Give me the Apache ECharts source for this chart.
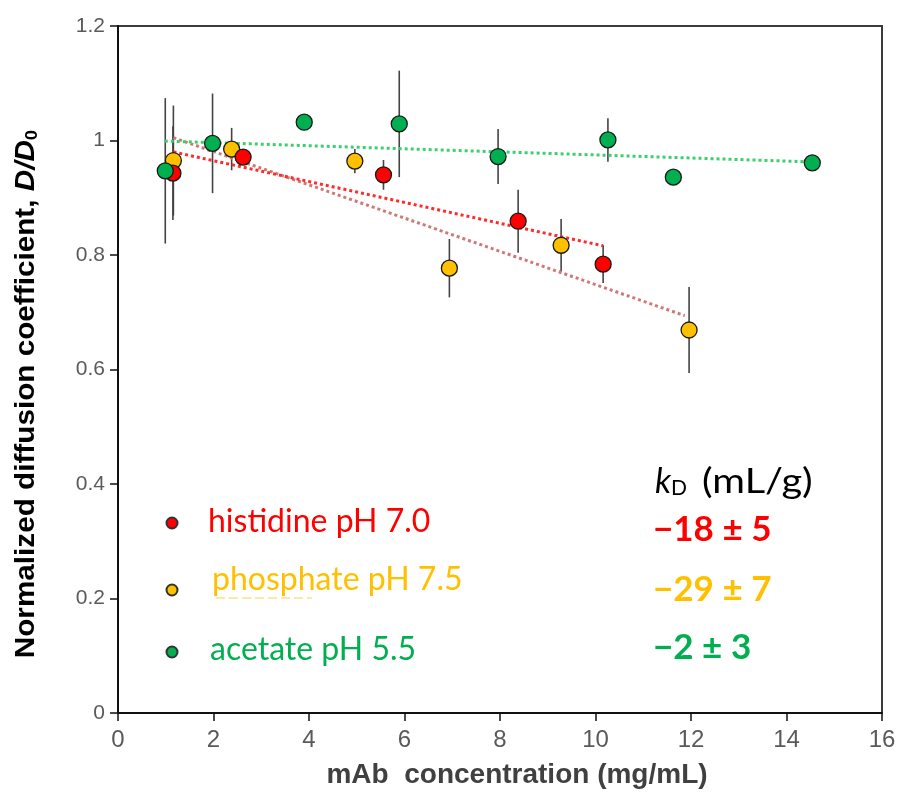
<!DOCTYPE html>
<html><head><meta charset="utf-8">
<script src="https://cdn.jsdelivr.net/npm/echarts@6/dist/echarts.min.js"></script>
<style>html,body{margin:0;padding:0;background:#fff}#c{width:899px;height:793px}</style>
</head><body><div id="c"></div>
<script>
// ---- data ----
const histX = [1.15, 2.62, 5.56, 8.38, 10.16];
const histY = [0.943, 0.971, 0.940, 0.859, 0.784];
const histErr = [0.082, 0, 0.026, 0.055, 0.033];
const phosX = [1.16, 2.38, 4.96, 6.94, 9.28, 11.96];
const phosY = [0.965, 0.985, 0.964, 0.777, 0.817, 0.669];
const phosErr = [0.096, 0.037, 0.021, 0.051, 0.046, 0.075];
const aceX = [0.99, 1.98, 3.90, 5.89, 7.96, 10.26, 11.63, 14.54];
const aceY = [0.947, 0.995, 1.032, 1.029, 0.972, 1.001, 0.936, 0.961];
const aceErr = [0.127, 0.087, 0, 0.093, 0.048, 0.038, 0, 0];
const histFitX = [1.16, 10.16], histFitY = [0.980, 0.816];
const phosFitX = [1.16, 11.87], phosFitY = [1.005, 0.694];
const aceFitX = [0.98, 14.39], aceFitY = [0.999, 0.963];
const seriesNames = ['histidine pH 7.0', 'phosphate pH 7.5', 'acetate pH 5.5'];
const kdValues = ['\u221218 \u00b1 5', '\u221229 \u00b1 7', '\u22122 \u00b1 3'];
const xTickLabels = ['0','2','4','6','8','10','12','14','16'];
const yTickLabels = ['0','0.2','0.4','0.6','0.8','1','1.2'];

const RED = '#ff0000', YEL = '#ffc000', GRN = '#00b050';
const zip = (a, b) => a.map((v, i) => [v, b[i]]);

function errSeries(xs, ys, es) {
  return {
    type: 'custom', z: 2, silent: true,
    data: xs.map((x, i) => [x, ys[i] - es[i], ys[i] + es[i]]).filter((d, i) => es[i] > 0),
    encode: { x: 0, y: [1, 2] },
    renderItem(params, api) {
      const lo = api.coord([api.value(0), api.value(1)]);
      const hi = api.coord([api.value(0), api.value(2)]);
      return { type: 'line', shape: { x1: lo[0], y1: lo[1], x2: hi[0], y2: hi[1] },
        style: { stroke: '#444', lineWidth: 1.6 } };
    }
  };
}
function fitSeries(xs, ys, color) {
  return { type: 'line', z: 3, silent: true, symbol: 'none', data: zip(xs, ys),
    lineStyle: { color: color, width: 3, type: [3, 3] } };
}
function ptSeries(name, xs, ys, color, z) {
  return { name: name, type: 'scatter', z: z, data: zip(xs, ys), symbolSize: 16,
    itemStyle: { color: color, borderColor: '#1a1a1a', borderWidth: 1.3, opacity: 1 } };
}

const chart = echarts.init(document.getElementById('c'), null, { renderer: 'canvas' });
const labelFont = 'Liberation Sans, Arial, sans-serif';
chart.setOption({
  animation: false,
  backgroundColor: '#fff',
  grid: { left: 118, right: 17, top: 26, bottom: 80, show: true, borderColor: '#3c3c3c', borderWidth: 2 },
  xAxis: {
    type: 'value', min: 0, max: 16, interval: 2,
    axisLine: { onZero: false, lineStyle: { color: '#111', width: 2 } },
    axisTick: { show: true, length: 8, lineStyle: { color: '#111', width: 1.5 } },
    splitLine: { show: false },
    axisLabel: { margin: 15, color: '#5a5a5a', fontSize: 24, fontFamily: labelFont,
      formatter: v => xTickLabels[Math.round(v / 2)] }
  },
  yAxis: {
    type: 'value', min: 0, max: 1.2, interval: 0.2,
    axisLine: { show: true, onZero: false, lineStyle: { color: '#111', width: 2 } },
    axisTick: { show: true, length: 8, lineStyle: { color: '#111', width: 1.5 } },
    splitLine: { show: false },
    axisLabel: { margin: 13, color: '#5a5a5a', fontSize: 21, fontFamily: labelFont,
      formatter: v => yTickLabels[Math.round(v / 0.2)] }
  },
  series: [
    errSeries(aceX, aceY, aceErr),
    errSeries(phosX, phosY, phosErr),
    errSeries(histX, histY, histErr),
    fitSeries(phosFitX, phosFitY, '#d07878'),
    fitSeries(histFitX, histFitY, '#ff2a2a'),
    fitSeries(aceFitX, aceFitY, '#3ccf6e'),
    ptSeries(seriesNames[1], phosX, phosY, YEL, 5),
    ptSeries(seriesNames[0], histX, histY, RED, 6),
    ptSeries(seriesNames[2], aceX, aceY, GRN, 7)
  ],
  graphic: [
    { type: 'text', x: 517, y: 775, style: { text: 'mAb  concentration (mg/mL)', fill: '#404040',
      font: 'bold 28px ' + labelFont, align: 'center', verticalAlign: 'middle' } },
    { type: 'text', x: 27, y: 394, rotation: Math.PI / 2, scaleX: 1.1,
      style: { text: '{b|Normalized diffusion coefficient, }{i|D/D}{s|0}',
        align: 'center', verticalAlign: 'middle',
        rich: {
          b: { font: 'bold 27px ' + labelFont, fill: '#000' },
          i: { font: 'italic bold 27px ' + labelFont, fill: '#000' },
          s: { font: 'bold 17px ' + labelFont, fill: '#000', verticalAlign: 'bottom', padding: [11, 0, 0, 0] }
        } } },
    // legend markers
    { type: 'circle', shape: { cx: 172, cy: 523, r: 5.5 }, style: { fill: RED, stroke: '#333', lineWidth: 2 } },
    { type: 'circle', shape: { cx: 172, cy: 590, r: 5.5 }, style: { fill: YEL, stroke: '#333', lineWidth: 2 } },
    { type: 'circle', shape: { cx: 172, cy: 652, r: 5.5 }, style: { fill: GRN, stroke: '#333', lineWidth: 2 } },
    { type: 'text', x: 208, y: 522, style: { text: seriesNames[0], fill: RED, font: '32px Lato, sans-serif', verticalAlign: 'middle' } },
    { type: 'text', x: 212, y: 580, style: { text: seriesNames[1], fill: YEL, font: '32px Lato, sans-serif', verticalAlign: 'middle' } },
    { type: 'line', shape: { x1: 216, y1: 598, x2: 312, y2: 598 }, style: { stroke: '#ffe08a', lineWidth: 1.5, lineDash: [9, 4] } },
    { type: 'text', x: 210, y: 650, style: { text: seriesNames[2], fill: GRN, font: '32px Lato, sans-serif', verticalAlign: 'middle' } },
    // kD block
    { type: 'text', x: 655, y: 482, style: { text: '{k|k}{d|D}', verticalAlign: 'middle',
      rich: { k: { font: 'italic 34px Lato, sans-serif', fill: '#000' },
              d: { font: '21px Lato, sans-serif', fill: '#000', verticalAlign: 'bottom', padding: [13, 0, 0, 0] } } } },
    { type: 'text', x: 702, y: 482, scaleX: 1.17, style: { text: '(mL/g)', fill: '#000', font: '34px Lato, sans-serif', verticalAlign: 'middle' } },
    { type: 'text', x: 653, y: 530, style: { text: kdValues[0], fill: RED, font: 'bold 35px Lato, sans-serif', verticalAlign: 'middle' } },
    { type: 'text', x: 653, y: 590, style: { text: kdValues[1], fill: YEL, font: 'bold 35px Lato, sans-serif', verticalAlign: 'middle' } },
    { type: 'text', x: 653, y: 648, style: { text: kdValues[2], fill: GRN, font: 'bold 35px Lato, sans-serif', verticalAlign: 'middle' } }
  ]
});
</script></body></html>
